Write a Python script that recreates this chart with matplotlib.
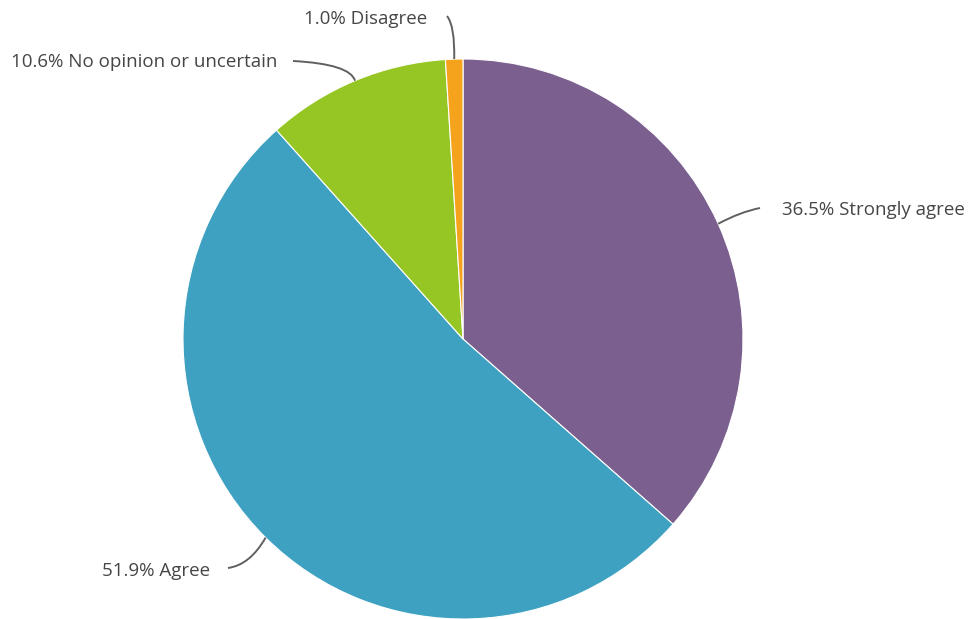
import numpy as np
import matplotlib
matplotlib.use("Agg")
import matplotlib.pyplot as plt
from matplotlib.path import Path
from matplotlib.patches import PathPatch

# survey answers, clockwise from the top
labels = ["Strongly agree", "Agree", "No opinion or uncertain", "Disagree"]
shares = [36.5, 51.9, 10.6, 1.0]
colors = ["#7b5f8e", "#3fa1c1", "#95c624", "#f5a31c"]

plt.rcParams["font.family"] = ["Open Sans", "DejaVu Sans"]

fig = plt.figure(figsize=(9.76, 6.19), dpi=100)
R = 280.0
cx, cy = 463.0, 339.0
ax = fig.add_axes([(cx - R) / 976, (619 - cy - R) / 619, 2 * R / 976, 2 * R / 619])

wedges, _ = ax.pie(shares, colors=colors, startangle=90, counterclock=False,
                   radius=1.0, wedgeprops=dict(edgecolor="white", linewidth=0.8))
for w in wedges:
    w.set_clip_on(False)
ax.set_xlim(-1, 1)
ax.set_ylim(-1, 1)
ax.set_aspect("equal")
ax.axis("off")


def px(x, y):
    return ((x - cx) / R, (cy - y) / R)


# connector control/end points and label anchor (pixel positions)
guides = [
    ((740, 212), (760, 208), (782, 210), "left"),
    ((250, 565), (228, 568), (210, 571), "right"),
    ((350, 64), (293, 61), (277, 62), "right"),
    ((455, 26), (447, 16), (427, 19), "right"),
]

for w, lab, val, (ctrl, end, txt, ha) in zip(wedges, labels, shares, guides):
    mid = np.deg2rad((w.theta1 + w.theta2) / 2)
    start = (np.cos(mid), np.sin(mid))
    path = Path([start, px(*ctrl), px(*end)], [Path.MOVETO, Path.CURVE3, Path.CURVE3])
    ax.add_patch(PathPatch(path, fill=False, edgecolor="#606060", lw=1.4, clip_on=False))
    tx, ty = px(*txt)
    ax.text(tx, ty, f"{val:.1f}% {lab}", ha=ha, va="center", fontsize=13.5,
            color="#464646", clip_on=False)

fig.savefig("out.png", dpi=100)
